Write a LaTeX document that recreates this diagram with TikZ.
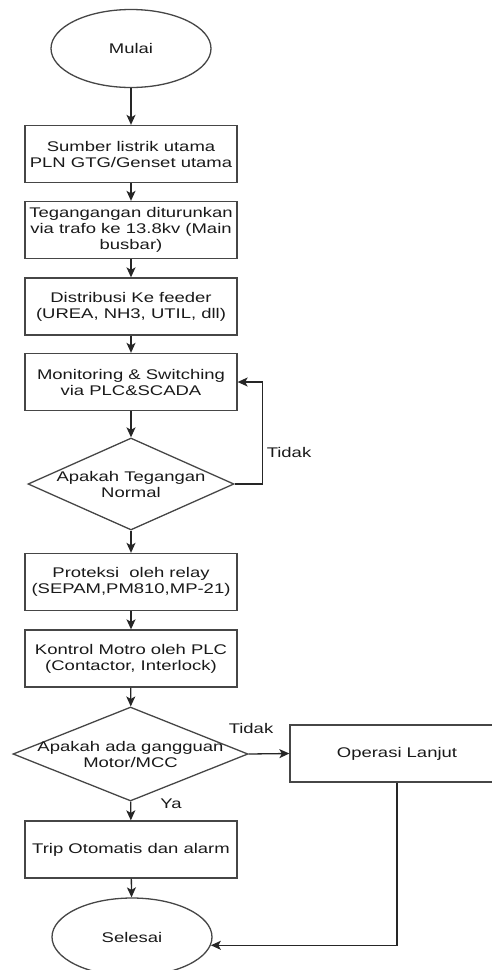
\documentclass[tikz,border=0pt]{standalone}
\usepackage{fontspec}
\newfontfamily\flowfont[FakeStretch=1.32]{Liberation Sans}
\usetikzlibrary{positioning,shapes.geometric,arrows.meta}
\definecolor{LineGray}{RGB}{70,70,70}
\definecolor{TextGray}{RGB}{25,25,25}
\tikzset{
  proc/.style={rectangle,draw=LineGray,line width=1.3pt,minimum width=212pt,minimum height=57pt,align=center,inner sep=1pt},
  term/.style={ellipse,draw=LineGray,line width=1.3pt,minimum width=160pt,minimum height=78pt},
  cond/.style={diamond,draw=LineGray,line width=1.3pt,inner sep=0pt},
  flow/.style={draw=black!85,line width=1.3pt,-{Stealth[length=10pt,width=9pt,inset=2.5pt]}},
}

\begin{document}
\begin{tikzpicture}[x=1pt,y=-1pt,font=\flowfont\fontsize{14}{16}\selectfont,text=TextGray]
\useasboundingbox (0,0) rectangle (491,970);
% main column
\node[term] (mulai) at (131,48.5) {Mulai};
\node[proc] (sumber) at (131,154) {Sumber listrik utama\\PLN GTG/Genset utama};
\node[proc] (trafo) at (131,230) {Tegangangan diturunkan\\via trafo ke 13.8kv (Main\\busbar)};
\node[proc] (distribusi) at (131,306.5) {Distribusi Ke feeder\\(UREA, NH3, UTIL, dll)};
\node[proc] (monitor) at (131,382) {Monitoring \& Switching\\via PLC\&SCADA};
\node[cond,minimum width=206pt,minimum height=92pt] (tegangan) at (131,484) {};
\node[align=center] (tegangantxt) at (tegangan) {Apakah Tegangan\\Normal};
\node[proc] (proteksi) at (131,582) {Proteksi~ oleh relay\\(SEPAM,PM810,MP-21)};
\node[proc] (kontrol) at (131,658.5) {Kontrol Motro oleh PLC\\(Contactor, Interlock)};
\node[cond,minimum width=235pt,minimum height=94pt] (gangguan) at (130.5,754) {};
\node[align=center] (gangguantxt) at (gangguan) {Apakah ada gangguan\\Motor/MCC};
\node[proc] (trip) at (131,849.5) {Trip Otomatis dan alarm};
\node[term] (selesai) at (132,937) {Selesai};
% side branch
\node[proc,minimum width=214pt] (lanjut) at (397,753.5) {Operasi Lanjut};
\node (tidaka) at (289,452) {Tidak};
\node (tidakb) at (251,728) {Tidak};
\node (ya) at (171,804) {Ya};

\draw[flow] (mulai) -- (sumber);
\draw[flow] (sumber) -- (trafo);
\draw[flow] (trafo) -- (distribusi);
\draw[flow] (distribusi) -- (monitor);
\draw[flow] (monitor) -- (tegangan);
\draw[flow] (tegangan.east) -- ++(28,0) |- (monitor.east);
\draw[flow] (tegangan) -- (proteksi);
\draw[flow] (proteksi) -- (kontrol);
\draw[flow] (kontrol) -- (gangguan);
\draw[flow] (gangguan.east) -- (lanjut.west);
\draw[flow] (gangguan) -- (trip);
\draw[flow] (trip) -- (selesai);
\draw[flow] (lanjut.south) |- (selesai.-6);
\end{tikzpicture}
\end{document}
